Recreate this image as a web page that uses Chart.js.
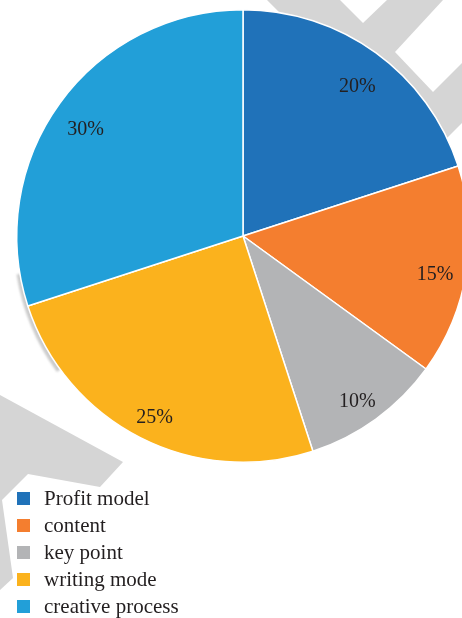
<!DOCTYPE html>
<html>
<head>
<meta charset="utf-8">
<script src="https://cdn.jsdelivr.net/npm/chart.js@4.4.1/dist/chart.umd.min.js"></script>
<style>
  html, body { margin: 0; padding: 0; background: #fff; overflow: hidden; }
  #wrap { position: relative; width: 462px; height: 618px; overflow: hidden; }
  #bg { position: absolute; left: 0; top: 0; }
  #chart { position: absolute; left: 0; top: 0; }
  #legend { position: absolute; left: 17px; top: 485px; font-family: "Liberation Serif", "DejaVu Serif", serif; font-size: 21px; color: #231f20; }
  .row { display: flex; align-items: center; height: 27px; }
  .box { width: 13px; height: 13px; margin-right: 14px; }
</style>
</head>
<body>
<div id="wrap">
  <!-- watermark in the background -->
  <svg id="bg" width="462" height="618">
    <polygon fill="#d5d5d5" points="267,0 340,0 363,23 387,0 443,0 395,52 433,92 462,63 462,123 437,148 300,100 280,13"/>
    <polygon fill="#d5d5d5" points="0,395 123,462 100,487 28,474 2,500 13,578 0,590"/>
  </svg>
  <canvas id="chart" width="486" height="618"></canvas>
  <div id="legend"></div>
</div>
<script>
// data
const labels = ['Profit model', 'content', 'key point', 'writing mode', 'creative process'];
const values = [20, 15, 10, 25, 30];
const colors = ['#2072b9', '#f47e2f', '#b3b4b6', '#fbb21d', '#229fd8'];

// grey shadow on the left edge of the pie
const shadowPlugin = {
  id: 'shadow',
  beforeDatasetsDraw(chart) {
    const arc = chart.getDatasetMeta(0).data[0];
    const { x, y, outerRadius } = arc.getProps(['x', 'y', 'outerRadius'], true);
    const ctx = chart.ctx;
    ctx.save();
    ctx.filter = 'blur(1px)';
    ctx.fillStyle = '#cccccc';
    ctx.beginPath();
    ctx.moveTo(x - 3, y + 3);
    ctx.arc(x - 3, y + 3, outerRadius, Math.PI * 0.8, Math.PI * 0.95);
    ctx.closePath();
    ctx.fill();
    ctx.restore();
  }
};

// percentage labels inside the slices
const labelPlugin = {
  id: 'pctLabels',
  afterDatasetsDraw(chart) {
    const ctx = chart.ctx;
    ctx.save();
    ctx.font = '20px "Liberation Serif", "DejaVu Serif", serif';
    ctx.fillStyle = '#231f20';
    ctx.textAlign = 'center';
    ctx.textBaseline = 'middle';
    chart.getDatasetMeta(0).data.forEach((arc, i) => {
      const p = arc.getProps(['x', 'y', 'startAngle', 'endAngle', 'outerRadius'], true);
      const mid = (p.startAngle + p.endAngle) / 2;
      const r = p.outerRadius * 0.86;
      ctx.fillText(values[i] + '%', p.x + Math.cos(mid) * r, p.y + Math.sin(mid) * r + 8);
    });
    ctx.restore();
  }
};

const myChart = new Chart(document.getElementById('chart'), {
  type: 'pie',
  data: {
    labels: labels,
    datasets: [{
      data: values,
      backgroundColor: colors,
      borderColor: '#ffffff',
      borderWidth: 1.5
    }]
  },
  options: {
    responsive: false,
    animation: false,
    layout: { padding: { left: 16, right: 16, top: 9, bottom: 155 } },
    plugins: {
      legend: { display: false },
      tooltip: { enabled: false }
    }
  },
  plugins: [shadowPlugin, labelPlugin]
});

// legend as html
const legend = document.getElementById('legend');
labels.forEach((l, i) => {
  const row = document.createElement('div');
  row.className = 'row';
  row.innerHTML = '<span class="box" style="background:' + colors[i] + '"></span><span>' + l + '</span>';
  legend.appendChild(row);
});
</script>
</body>
</html>
